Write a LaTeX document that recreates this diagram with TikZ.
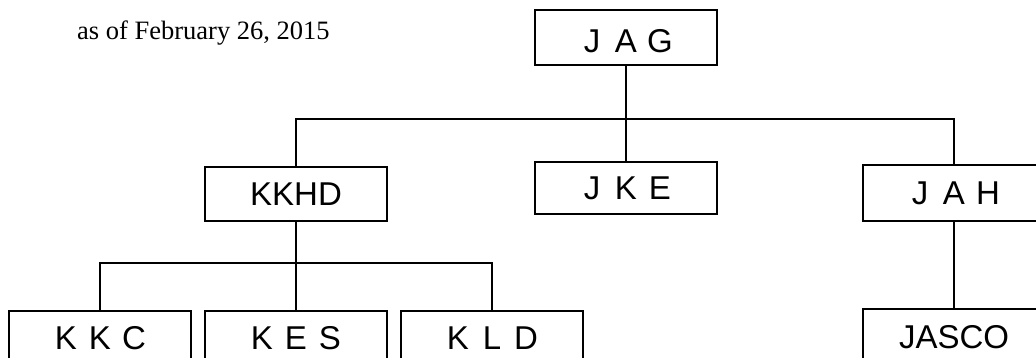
\documentclass[tikz,border=0pt]{standalone}
\usepackage{fontspec}
\setmainfont{Liberation Serif}
\newfontfamily\labfont{Liberation Sans}
\newcommand{\spc}[1]{\makebox[34pt]{#1}}
\begin{document}
\begin{tikzpicture}[x=1pt,y=-1pt,
  box/.style={draw, line width=1.3pt, minimum width=182pt, minimum height=55pt, inner sep=0pt,
    font=\labfont\fontsize{33}{33}\selectfont},
  link/.style={line width=1.3pt}]
\useasboundingbox (0,0) rectangle (1036,358);
\node[anchor=base west, font=\fontsize{26.5}{27}\selectfont, inner sep=0pt] (date) at (77,40) {as of February 26, 2015};
\node[box, minimum height=55pt, text height=30pt, text depth=0pt] (jag) at (626,37.5) {\spc{J}\spc{A}\spc{G}};
\node[box, minimum height=52pt] (jke) at (626,188) {\spc{J}\spc{K}\spc{E}};
\node[box, minimum height=54pt] (kkhd) at (296,194) {KKHD};
\node[box, minimum height=56pt] (jah) at (954,193) {\spc{J}\spc{A}\spc{H}};
\node[box] (kkc) at (100,338.5) {\spc{K}\spc{K}\spc{C}};
\node[box] (kes) at (296,338.5) {\spc{K}\spc{E}\spc{S}};
\node[box] (kld) at (492,338.5) {\spc{K}\spc{L}\spc{D}};
\node[box, minimum height=57pt] (jasco) at (954,337.5) {JASCO};
\coordinate (bar1) at (626,119);
\coordinate (bar2) at (296,263);
\draw[link] (jag.south) -- (jke.north);
\draw[link] (kkhd.north) |- (bar1) -| (jah.north);
\draw[link] (kkhd.south) -- (kes.north);
\draw[link] (kkc.north) |- (bar2) -| (kld.north);
\draw[link] (jah.south) -- (jasco.north);
\end{tikzpicture}
\end{document}
